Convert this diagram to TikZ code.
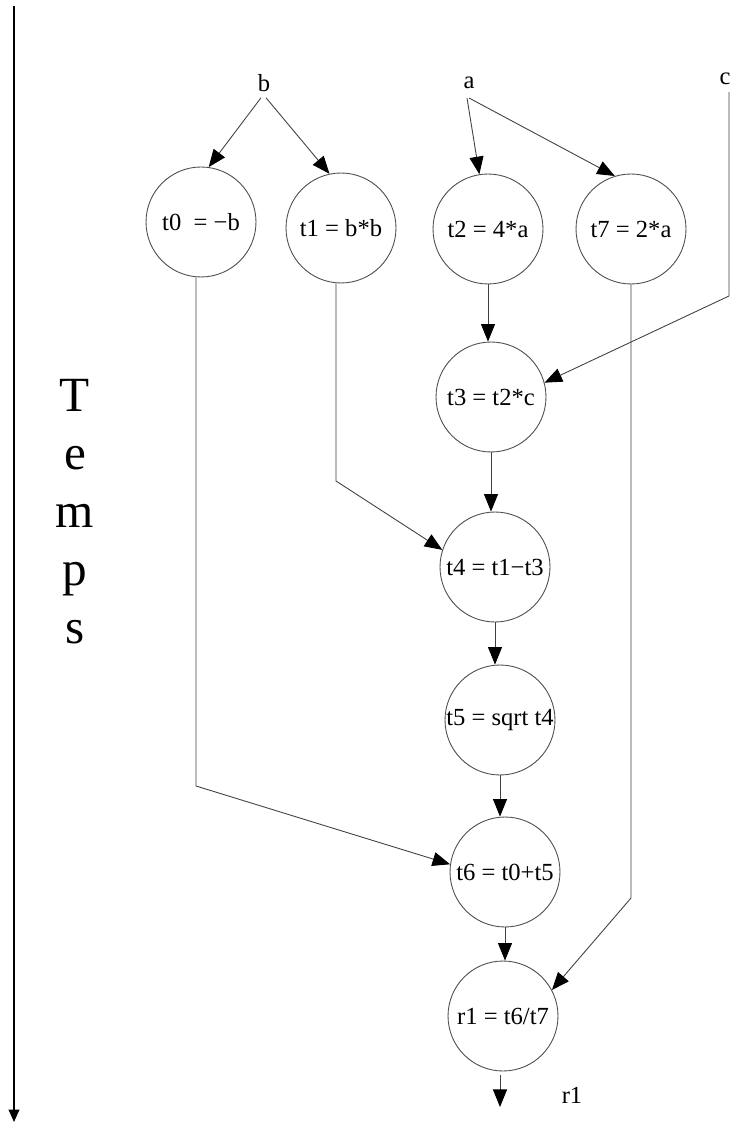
\documentclass[tikz,border=0pt]{standalone}
\usepackage{fontspec}
\setmainfont{Liberation Serif}
\usetikzlibrary{arrows.meta}

\begin{document}
\begin{tikzpicture}[x=0.02cm, y=-0.02cm, >={Triangle[length=10pt,width=8pt,color=black]},
    op/.style={circle, draw=black!70, line width=0.5pt, minimum size=2.2cm, inner sep=0pt, font=\fontsize{14}{16}\selectfont},
    var/.style={inner sep=1pt, font=\fontsize{14}{16}\selectfont},
    link/.style={->, draw=black!75, line width=0.5pt}]

        % Fixed frame of the page
        \useasboundingbox (0,0) rectangle (730,1124);

        % Time axis on the left
        \coordinate (tstart) at (14,6);
        \coordinate (tend) at (14,1122);
        \draw[->, line width=1pt, >={Triangle[length=7pt,width=6pt]}] (tstart) -- (tend);
        \node[font=\fontsize{28}{33}\selectfont, align=center, inner sep=0pt] (temps) at (75,512) {T\\e\\m\\p\\s};

        % Input variables
        \node[var] (b) at (264,83) {b};
        \node[var] (a) at (469,83) {a};
        \node[var] (c) at (725,79) {c};

        % Operations
        \node[op] (t0) at (201,222) {t0\ \ = −b};
        \node[op] (t1) at (341,228) {t1 = b*b};
        \node[op] (t2) at (488,229) {t2 = 4*a};
        \node[op] (t7) at (631,229) {t7 = 2*a};
        \node[op] (t3) at (491,397) {t3 = t2*c};
        \node[op] (t4) at (495,567) {t4 = t1−t3};
        \node[op] (t5) at (500,720) {t5 = sqrt t4};
        \node[op] (t6) at (505,872) {t6 = t0+t5};
        \node[op] (r1) at (503,1016) {r1 = t6/t7};

        % Result
        \node[var] (res) at (572,1095) {r1};
        \coordinate (out) at (500,1107);

        % Bend points of the long connectors
        \coordinate (kc) at (729,296);
        \coordinate (k1) at (336,481);
        \coordinate (k0) at (196,786);
        \coordinate (k7) at (631,898);

        % Inputs to first operations
        \draw[link] (b.south) ++(-3,4) -- (t0.82);
        \draw[link] (b.south) ++(2,4) -- (t1.102);
        \draw[link] (a.south) ++(-2,7) -- (t2.99);
        \draw[link] (a.south) ++(0,7) -- (t7.107);
        \draw[link] (c.south -| kc) ++(0,5) -- (kc) -- (t3.15);

        % Vertical chain
        \draw[link] (t2.south) -- (t2.south |- t3.north);
        \draw[link] (t3.south) -- (t3.south |- t4.north);
        \draw[link] (t4.south) -- (t4.south |- t5.north);
        \draw[link] (t5.south) -- (t5.south |- t6.north);
        \draw[link] (t6.south) -- (t6.south |- r1.north);
        \draw[link] (r1.south -| out) ++(0,4) -- (out);

        % Long connectors
        \draw[link] (t1.south -| k1) -- (k1) -- (t4.162);
        \draw[link] (t0.south -| k0) -- (k0) -- (t6.172);
        \draw[link] (t7.south -| k7) -- (k7) -- (r1.28);

\end{tikzpicture}
\end{document}
